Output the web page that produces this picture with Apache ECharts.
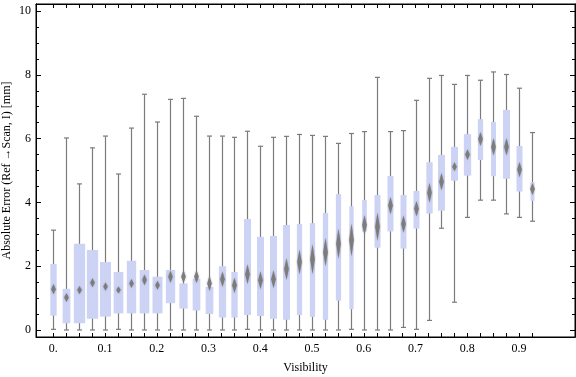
<!DOCTYPE html>
<html>
<head>
<meta charset="utf-8">
<script src="https://cdn.jsdelivr.net/npm/echarts@6/dist/echarts.min.js"></script>
<style>
  html, body { margin: 0; padding: 0; background: #fff; }
  #chart { width: 576px; height: 377px; }
</style>
</head>
<body>
<div id="chart"></div>
<script>
// visibility bins (box centres)
const visibility = [0, 0.025, 0.05, 0.075, 0.1, 0.125, 0.15, 0.175, 0.2, 0.225,
  0.25, 0.275, 0.3, 0.325, 0.35, 0.375, 0.4, 0.425, 0.45, 0.475,
  0.5, 0.525, 0.55, 0.575, 0.6, 0.625, 0.65, 0.675, 0.7, 0.725,
  0.75, 0.775, 0.8, 0.825, 0.85, 0.875, 0.9, 0.925];

const whiskerLow = [0.02, 0, 0, 0, 0, 0.02, 0, 0, 0, 0,
  0, 0, 0, 0, 0, 0.02, 0, 0, 0, 0,
  0, 0, 0, 0.02, 0, 0, 0, 0.08, 0.02, 0.30,
  3.19, 0.87, 3.53, 4.07, 4.07, 3.64, 3.53, 3.41];

const quartile1 = [0.45, 0.21, 0.21, 0.35, 0.42, 0.52, 0.52, 0.52, 0.52, 0.84,
  0.67, 0.61, 0.50, 0.39, 0.39, 0.47, 0.44, 0.35, 0.32, 0.47,
  0.41, 0.32, 0.92, 0.65, 3.09, 2.58, 3.09, 2.55, 3.18, 3.65,
  3.74, 4.68, 4.84, 5.33, 4.82, 4.74, 4.34, 4.05];

const meanError = [1.28, 1.02, 1.25, 1.48, 1.36, 1.25, 1.46, 1.57, 1.40, 1.67,
  1.67, 1.67, 1.46, 1.59, 1.40, 1.75, 1.56, 1.59, 1.91, 2.13,
  2.22, 2.44, 2.70, 2.82, 3.29, 3.24, 3.90, 3.32, 3.80, 4.30,
  4.65, 5.12, 5.50, 5.99, 5.74, 5.74, 5.03, 4.42];

const quartile3 = [2.07, 1.29, 2.70, 2.51, 2.13, 1.82, 2.17, 1.88, 1.67, 1.88,
  1.46, 1.61, 1.35, 2.00, 1.82, 3.48, 2.92, 2.95, 3.29, 3.32,
  3.35, 3.67, 4.26, 3.88, 4.08, 4.23, 4.83, 4.23, 4.36, 5.26,
  5.49, 5.74, 6.14, 6.61, 6.52, 6.90, 5.77, 4.64];

const whiskerHigh = [3.13, 6.02, 4.58, 5.71, 6.08, 4.89, 6.33, 7.39, 6.52, 7.23,
  7.26, 6.70, 6.08, 6.08, 6.04, 6.23, 5.76, 6.04, 6.07, 6.13,
  6.10, 6.07, 5.85, 6.16, 6.22, 7.92, 6.22, 6.25, 7.20, 7.89,
  7.98, 7.70, 7.98, 7.83, 8.09, 8.01, 7.58, 6.19];

// box width of each bin, in visibility units
const binWidth = [0.0122, 0.0149, 0.0218, 0.0218, 0.0213, 0.0187, 0.018, 0.0187, 0.0193, 0.018,
  0.016, 0.0149, 0.0149, 0.0141, 0.0122, 0.0135, 0.0135, 0.0135, 0.0135, 0.0102,
  0.0102, 0.0102, 0.0102, 0.0083, 0.0091, 0.0116, 0.0116, 0.0116, 0.0116, 0.0122,
  0.0135, 0.0135, 0.0141, 0.0102, 0.0097, 0.0135, 0.0116, 0.0077];

// half height of the mean diamond, in mm
const meanSpread = [0.16, 0.14, 0.13, 0.14, 0.13, 0.11, 0.14, 0.17, 0.14, 0.19,
  0.20, 0.20, 0.24, 0.24, 0.24, 0.31, 0.28, 0.28, 0.34, 0.39,
  0.47, 0.44, 0.47, 0.52, 0.31, 0.44, 0.27, 0.27, 0.24, 0.31,
  0.27, 0.14, 0.17, 0.22, 0.27, 0.27, 0.24, 0.19];

const xLabels = [0, 0.1, 0.2, 0.3, 0.4, 0.5, 0.6, 0.7, 0.8, 0.9];
const yLabels = [0, 2, 4, 6, 8, 10];
const yMinorTicks = [0, 0.5, 1, 1.5, 2, 2.5, 3, 3.5, 4, 4.5, 5, 5.5, 6, 6.5, 7, 7.5, 8, 8.5, 9, 9.5, 10];

const rows = visibility.map((v, i) => [v, whiskerLow[i], quartile1[i], meanError[i],
  quartile3[i], whiskerHigh[i], binWidth[i], meanSpread[i]]);

const font = 'Liberation Serif';

function renderBox(params, api) {
  const x = api.value(0);
  const low = api.coord([x, api.value(1)]);
  const q1 = api.coord([x, api.value(2)]);
  const mid = api.coord([x, api.value(3)]);
  const q3 = api.coord([x, api.value(4)]);
  const high = api.coord([x, api.value(5)]);
  const halfW = api.size([api.value(6), 0])[0] / 2;
  const dh = api.size([0, api.value(7)])[1];
  const cx = Math.round(low[0]) + 0.5;
  const cap = 2.5;
  const line = { stroke: '#7b7b7b', lineWidth: 1.2 };
  return {
    type: 'group',
    children: [
      { type: 'line', shape: { x1: cx, y1: low[1], x2: cx, y2: high[1] }, style: line },
      { type: 'line', shape: { x1: cx - cap, y1: low[1], x2: cx + cap, y2: low[1] }, style: line },
      { type: 'line', shape: { x1: cx - cap, y1: high[1], x2: cx + cap, y2: high[1] }, style: line },
      { type: 'rect', shape: { x: cx - halfW, y: q3[1], width: halfW * 2, height: q1[1] - q3[1] },
        style: { fill: '#cdd3f5' } },
      { type: 'polygon',
        shape: { points: [[cx, mid[1] - dh], [cx + 2.3, mid[1]], [cx, mid[1] + dh], [cx - 2.3, mid[1]]] },
        style: { fill: '#7c7c7c', shadowBlur: 2, shadowColor: 'rgba(120,120,120,0.6)' } }
    ]
  };
}

const chart = echarts.init(document.getElementById('chart'));

const xBase = {
  type: 'value',
  min: -0.0335,
  max: 1.008,
  axisLine: { show: true, onZero: false, lineStyle: { color: '#000', width: 1 } },
  axisTick: { show: true, inside: true, length: 4, customValues: visibility, lineStyle: { color: '#000' } },
  splitLine: { show: false }
};

const yBase = {
  type: 'value',
  min: -0.22,
  max: 10.22,
  axisLine: { show: true, onZero: false, lineStyle: { color: '#000', width: 1 } },
  splitLine: { show: false }
};

// empty series so that the frame axes on top / right are laid out
const frameSeries = [[1, 1], [1, 2], [1, 3]].map(([xi, yi]) => ({
  type: 'line', xAxisIndex: xi, yAxisIndex: yi, data: [], silent: true
}));

chart.setOption({
  animation: false,
  grid: {
    left: 36, right: 1, top: 4, bottom: 40,
    outerBoundsMode: 'none', containLabel: false,
    show: true, borderColor: '#000', borderWidth: 1, backgroundColor: 'transparent'
  },
  xAxis: [
    Object.assign({}, xBase, {
      position: 'bottom',
      axisLabel: {
        customValues: xLabels, margin: 6, color: '#000', fontFamily: font, fontSize: 12,
        formatter: v => v === 0 ? '0.' : v.toFixed(1)
      },
      name: 'Visibility',
      nameLocation: 'middle',
      nameGap: 25,
      nameMoveOverlap: false,
      nameTextStyle: { color: '#000', fontFamily: font, fontSize: 12 }
    }),
    Object.assign({}, xBase, { position: 'top', axisLabel: { show: false } })
  ],
  yAxis: [
    Object.assign({}, yBase, {
      position: 'left',
      axisTick: { show: true, inside: true, length: 5, customValues: yLabels, lineStyle: { color: '#000' } },
      axisLabel: { customValues: yLabels, margin: 5, color: '#000', fontFamily: font, fontSize: 12 },
      name: 'Absolute Error (Ref \u2192Scan, I) [mm]',
      nameLocation: 'middle',
      nameRotate: 90,
      nameGap: 23,
      nameMoveOverlap: false,
      nameTextStyle: { color: '#000', fontFamily: font, fontSize: 12 }
    }),
    Object.assign({}, yBase, {
      position: 'left',
      axisTick: { show: true, inside: true, length: 3, customValues: yMinorTicks, lineStyle: { color: '#000' } },
      axisLabel: { show: false }
    }),
    Object.assign({}, yBase, {
      position: 'right',
      axisTick: { show: true, inside: true, length: 5, customValues: yLabels, lineStyle: { color: '#000' } },
      axisLabel: { show: false }
    }),
    Object.assign({}, yBase, {
      position: 'right',
      axisTick: { show: true, inside: true, length: 3, customValues: yMinorTicks, lineStyle: { color: '#000' } },
      axisLabel: { show: false }
    })
  ],
  series: [{
    type: 'custom',
    xAxisIndex: 0,
    yAxisIndex: 0,
    silent: true,
    renderItem: renderBox,
    encode: { x: 0, y: [1, 5] },
    data: rows
  }].concat(frameSeries)
});
</script>
</body>
</html>
